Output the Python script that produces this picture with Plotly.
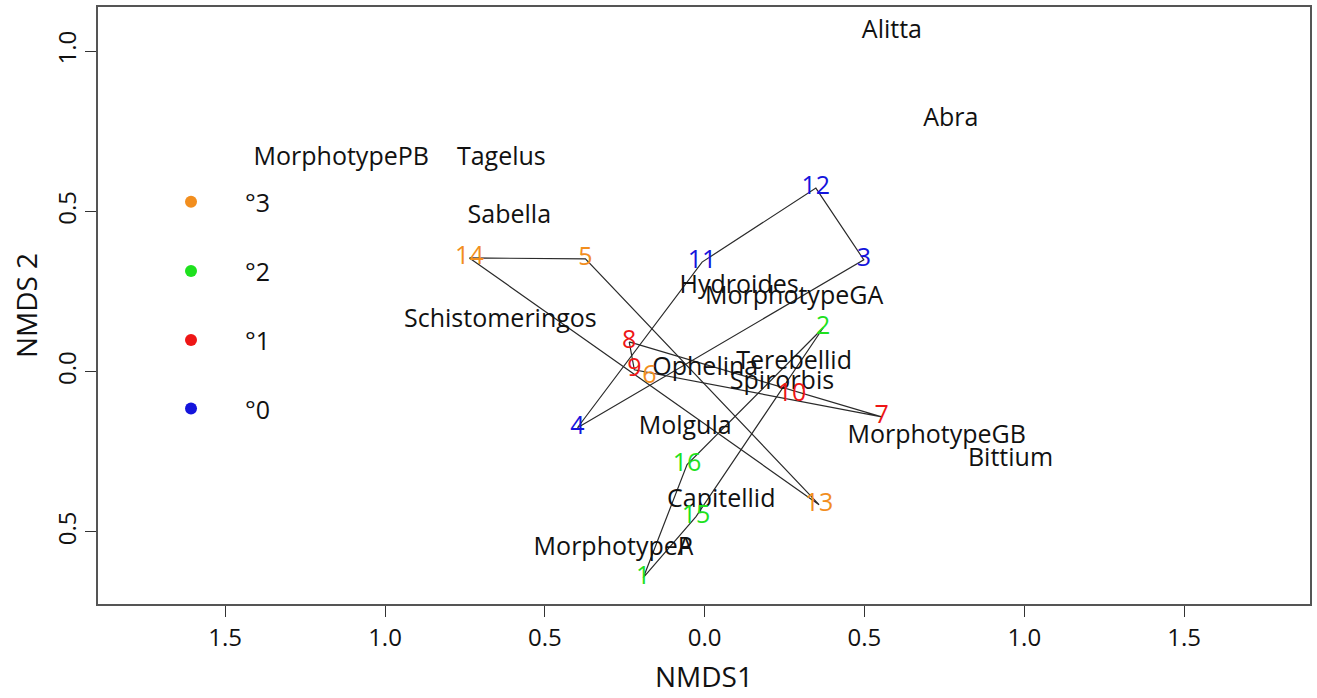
import plotly.graph_objects as go

# NMDS site scores (sites labelled by number, coloured by management level)
site_ids = ["1", "2", "3", "4", "5", "6", "7", "8", "9", "10", "11", "12", "13", "14", "15", "16"]
site_x = [-0.192, 0.371, 0.498, -0.398, -0.373, -0.173, 0.554, -0.236, -0.220, 0.273, -0.008, 0.348, 0.358, -0.736, -0.027, -0.055]
site_y = [-0.643, 0.137, 0.349, -0.175, 0.352, -0.016, -0.141, 0.093, 0.006, -0.072, 0.342, 0.573, -0.415, 0.355, -0.452, -0.290]
site_level = [2, 2, 0, 0, 3, 3, 1, 1, 1, 1, 0, 0, 3, 3, 2, 2]

# NMDS species scores
species_names = ["Alitta", "Abra", "MorphotypePB", "Tagelus", "Sabella", "Schistomeringos",
                 "Hydroides", "MorphotypeGA", "Terebellid", "Spirorbis", "Ophelina", "Molgula",
                 "MorphotypeGB", "Bittium", "Capitellid", "MorphotypeP", "MorphotypeA"]
species_x = [0.586, 0.770, -1.137, -0.636, -0.611, -0.639, 0.108, 0.280, 0.280, 0.242, 0.002,
             -0.061, 0.726, 0.957, 0.052, -0.286, -0.286]
species_y = [1.062, 0.785, 0.663, 0.663, 0.483, 0.159, 0.265, 0.230, 0.028, -0.035, 0.009,
             -0.174, -0.203, -0.275, -0.402, -0.552, -0.552]

# Legend entries (level, label) and their placement in data units
legend_levels = [3, 2, 1, 0]
legend_labels = ["°3", "°2", "°1", "°0"]
legend_y = [0.530, 0.314, 0.099, -0.115]
legend_dot_x = -1.607
legend_text_x = -1.444

level_colors = {0: "#1414DC", 1: "#EE1616", 2: "#1EE11E", 3: "#F28E1E"}

# Axis ticks (labels printed without minus signs)
x_tickvals = [-1.5, -1.0, -0.5, 0.0, 0.5, 1.0, 1.5]
x_ticktext = ["1.5", "1.0", "0.5", "0.0", "0.5", "1.0", "1.5"]
y_tickvals = [-0.5, 0.0, 0.5, 1.0]
y_ticktext = ["0.5", "0.0", "0.5", "1.0"]

FONT = "Open Sans, Noto Sans, Liberation Sans, sans-serif"
LABEL_SIZE = 25


def convex_hull(points):
    """Monotone-chain convex hull, returned as a closed ring."""
    pts = sorted(set(points))
    if len(pts) < 3:
        return pts + pts[:1]

    def cross(o, a, b):
        return (a[0] - o[0]) * (b[1] - o[1]) - (a[1] - o[1]) * (b[0] - o[0])

    lower = []
    for p in pts:
        while len(lower) >= 2 and cross(lower[-2], lower[-1], p) <= 0:
            lower.pop()
        lower.append(p)
    upper = []
    for p in reversed(pts):
        while len(upper) >= 2 and cross(upper[-2], upper[-1], p) <= 0:
            upper.pop()
        upper.append(p)
    ring = lower[:-1] + upper[:-1]
    return ring + ring[:1]


def species_label(name, idx):
    # Coincident labels sharing a prefix: draw the shared prefix only once
    for j in range(idx):
        if (species_x[j], species_y[j]) == (species_x[idx], species_y[idx]):
            other = species_names[j]
            k = 0
            while k < min(len(name), len(other)) and name[k] == other[k]:
                k += 1
            if k:
                return ("<span style='color:rgba(0,0,0,0)'>" + name[:k] + "</span>" + name[k:])
    return name


fig = go.Figure()

# Hulls around the sites of each level
for level in sorted(set(site_level)):
    pts = [(x, y) for x, y, g in zip(site_x, site_y, site_level) if g == level]
    ring = convex_hull(pts)
    fig.add_trace(go.Scatter(
        x=[p[0] for p in ring], y=[p[1] for p in ring], mode="lines",
        line=dict(color="#2a2a2a", width=1.2), hoverinfo="skip", showlegend=False))

# Species names
fig.add_trace(go.Scatter(
    x=species_x, y=species_y,
    text=[species_label(n, i) for i, n in enumerate(species_names)], mode="text",
    textposition="middle center",
    textfont=dict(family=FONT, size=LABEL_SIZE, color="#111111"),
    showlegend=False))

# Site numbers
fig.add_trace(go.Scatter(
    x=site_x, y=site_y, text=site_ids, mode="text",
    textposition="middle center",
    textfont=dict(family=FONT, size=LABEL_SIZE, color=[level_colors[g] for g in site_level]),
    showlegend=False))

# Legend: coloured dots and level labels
fig.add_trace(go.Scatter(
    x=[legend_dot_x] * len(legend_levels), y=legend_y, mode="markers",
    marker=dict(size=12, color=[level_colors[g] for g in legend_levels]),
    hoverinfo="skip", showlegend=False))
for lab, yy in zip(legend_labels, legend_y):
    fig.add_annotation(x=legend_text_x, y=yy, text=lab, showarrow=False,
                       xanchor="left", yanchor="middle",
                       font=dict(family=FONT, size=LABEL_SIZE, color="#111111"))

axis_common = dict(
    showgrid=False, zeroline=False, showline=True, mirror=True,
    linecolor="#555555", linewidth=1.5,
    ticks="outside", ticklen=11, tickwidth=1.2, tickcolor="#333333",
    tickfont=dict(family=FONT, size=24, color="#111111"),
)

fig.update_layout(
    width=1317, height=698,
    margin=dict(l=98, r=5, t=7, b=94),
    paper_bgcolor="white", plot_bgcolor="white",
    showlegend=False,
    xaxis=dict(range=[-1.898, 1.894], tickvals=x_tickvals, ticktext=x_ticktext,
               title=dict(text="NMDS1", font=dict(family=FONT, size=28, color="#111111"), standoff=16),
               **axis_common),
    yaxis=dict(range=[-0.725, 1.138], tickvals=y_tickvals, ticktext=y_ticktext, tickangle=-90,
               title=dict(text="NMDS 2", font=dict(family=FONT, size=28, color="#111111"), standoff=4),
               **axis_common),
)

fig.write_html("out.html")
